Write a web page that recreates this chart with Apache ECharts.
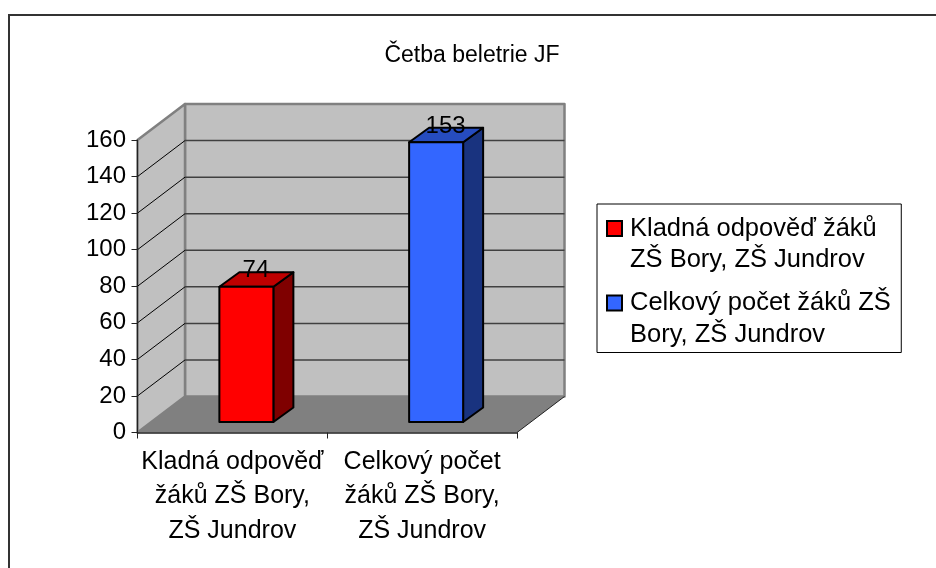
<!DOCTYPE html>
<html>
<head>
<meta charset="utf-8">
<script src="https://cdn.jsdelivr.net/npm/echarts@6/dist/echarts.min.js"></script>
<style>
  html, body { margin: 0; padding: 0; background: #fff; }
  #chart { width: 936px; height: 568px; }
</style>
</head>
<body>
<div id="chart"></div>
<script>
// data
const titleText = 'Četba beletrie JF';
const categories = ['Kladná odpověď\nžáků ZŠ Bory,\nZŠ Jundrov', 'Celkový počet\nžáků ZŠ Bory,\nZŠ Jundrov'];
const seriesNames = ['Kladná odpověď žáků ZŠ Bory, ZŠ Jundrov', 'Celkový počet žáků ZŠ Bory, ZŠ Jundrov'];
const legendLabels = ['Kladná odpověď žáků\nZŠ Bory, ZŠ Jundrov', 'Celkový počet žáků ZŠ\nBory, ZŠ Jundrov'];
const values = [74, 153];
const yTicks = [0, 20, 40, 60, 80, 100, 120, 140, 160];
const barColors = ['#ff0000', '#3366ff'];
const topColors = ['#bf0000', '#264cbf'];
const sideColors = ['#7f0000', '#19337f'];

const FONT = '"Liberation Sans", Arial, sans-serif';
// 3d look: pixel offset of the back wall and of the bar inside the depth
const DEPTH_X = 47.5, DEPTH_Y = -36;
const BAR_OFF_X = 14, BAR_OFF_Y = -10.5;
const BAR_DX = 20, BAR_DY = -14.5;
const BAR_W = 54;
// legend marker sits on the first text line, the empty points stretch the path to the item height
const LEGEND_ICON = 'path://M0,0L0,0 M0,8H15V23H0Z M0,63L0,63';

function poly(points, fill, stroke, lineWidth) {
  return {
    type: 'polygon',
    shape: { points: points },
    style: { fill: fill, stroke: stroke || null, lineWidth: lineWidth || 0, lineJoin: 'round' }
  };
}
function line(x1, y1, x2, y2, stroke, lineWidth) {
  return {
    type: 'line',
    shape: { x1: x1, y1: y1, x2: x2, y2: y2 },
    style: { stroke: stroke, lineWidth: lineWidth }
  };
}

// walls, floor and the gridlines running over them
function renderWalls(params, api) {
  const cs = params.coordSys;
  const l = cs.x, r = cs.x + cs.width, b = cs.y + cs.height;
  const t = cs.y;
  const children = [
    poly([[l + DEPTH_X, t + DEPTH_Y], [r + DEPTH_X, t + DEPTH_Y], [r + DEPTH_X, b + DEPTH_Y], [l + DEPTH_X, b + DEPTH_Y]], '#c0c0c0', '#808080', 2.5),
    poly([[l, t], [l + DEPTH_X, t + DEPTH_Y], [l + DEPTH_X, b + DEPTH_Y], [l, b]], '#c0c0c0', '#808080', 2.5),
    poly([[l, b], [l + DEPTH_X, b + DEPTH_Y], [r + DEPTH_X, b + DEPTH_Y], [r, b]], '#808080')
  ];
  yTicks.forEach(function (tick) {
    // bottom and top of the walls have no gridline
    if (tick === yTicks[0] || tick === yTicks[yTicks.length - 1]) return;
    const y = api.coord([0, tick])[1];
    children.push(line(l, y, l + DEPTH_X, y + DEPTH_Y, '#000', 1));
    children.push(line(l + DEPTH_X, y + DEPTH_Y, r + DEPTH_X, y + DEPTH_Y, '#404040', 1.5));
  });
  children.push(line(r, b, r + DEPTH_X, b + DEPTH_Y, '#222', 1));
  return { type: 'group', children: children };
}

function renderBar(params, api) {
  const i = api.value(0);
  const v = api.value(1);
  const base = api.coord([i, 0]);
  const top = api.coord([i, v]);
  const x0 = base[0] + BAR_OFF_X - BAR_W / 2;
  const x1 = x0 + BAR_W;
  const yb = base[1] + BAR_OFF_Y;
  const yt = top[1] + BAR_OFF_Y;
  return {
    type: 'group',
    children: [
      poly([[x1, yt], [x1 + BAR_DX, yt + BAR_DY], [x1 + BAR_DX, yb + BAR_DY], [x1, yb]], sideColors[i], '#000', 2),
      poly([[x0, yt], [x0 + BAR_DX, yt + BAR_DY], [x1 + BAR_DX, yt + BAR_DY], [x1, yt]], topColors[i], '#000', 2),
      poly([[x0, yt], [x1, yt], [x1, yb], [x0, yb]], barColors[i], '#000', 2),
      {
        type: 'text',
        style: {
          text: String(v),
          x: (x0 + x1) / 2 + 9.5,
          y: yt - 16,
          align: 'center',
          verticalAlign: 'middle',
          fill: '#000',
          font: '24px ' + FONT
        }
      }
    ]
  };
}

const chart = echarts.init(document.getElementById('chart'), null, { renderer: 'canvas' });

const barSeries = values.map(function (v, i) {
  return {
    type: 'custom',
    name: seriesNames[i],
    coordinateSystem: 'cartesian2d',
    renderItem: renderBar,
    itemStyle: { color: barColors[i], borderColor: '#000', borderWidth: 2 },
    encode: { x: 0, y: 1 },
    data: [[i, v]],
    z: 3,
    silent: true
  };
});

chart.setOption({
  animation: false,
  backgroundColor: '#fff',
  title: {
    text: titleText,
    left: 467,
    top: 39,
    textAlign: 'center',
    textStyle: { fontFamily: FONT, fontWeight: 'normal', fontSize: 23, color: '#000' }
  },
  legend: {
    orient: 'vertical',
    left: 597,
    top: 204,
    padding: [8, 10.5, 1, 9],
    itemGap: 9.5,
    itemWidth: 15,
    itemHeight: 63,
    icon: LEGEND_ICON,
    borderColor: '#000',
    borderWidth: 1,
    backgroundColor: '#fff',
    selectedMode: false,
    data: seriesNames,
    formatter: function (name) { return legendLabels[seriesNames.indexOf(name)]; },
    textStyle: { fontFamily: FONT, fontSize: 25.5, lineHeight: 31.5, color: '#000', padding: [0, 0, 0, 3] }
  },
  grid: { left: 137.5, top: 140, width: 379.5, height: 292.5 },
  xAxis: {
    type: 'category',
    data: categories,
    z: 4,
    axisLine: { lineStyle: { color: '#222', width: 1.5 } },
    axisTick: { show: true, length: 6, lineStyle: { color: '#222', width: 1 } },
    axisLabel: { color: '#000', fontFamily: FONT, fontSize: 25, lineHeight: 34.5, margin: 12, interval: 0 }
  },
  yAxis: {
    type: 'value',
    min: 0,
    max: 160,
    interval: 20,
    z: 4,
    splitLine: { show: false },
    axisLine: { show: true, lineStyle: { color: '#222', width: 1 } },
    axisTick: { show: true, length: 6, lineStyle: { color: '#222', width: 1 } },
    axisLabel: { color: '#000', fontFamily: FONT, fontSize: 24, margin: 11.5 }
  },
  graphic: [{
    type: 'polyline',
    shape: { points: [[9, 568], [9, 15], [936, 15]] },
    style: { fill: null, stroke: '#333', lineWidth: 2 },
    silent: true
  }],
  series: [{
    type: 'custom',
    coordinateSystem: 'cartesian2d',
    renderItem: renderWalls,
    data: [[0, 0]],
    encode: { x: 0, y: 1 },
    z: 1,
    silent: true
  }].concat(barSeries)
});
</script>
</body>
</html>
